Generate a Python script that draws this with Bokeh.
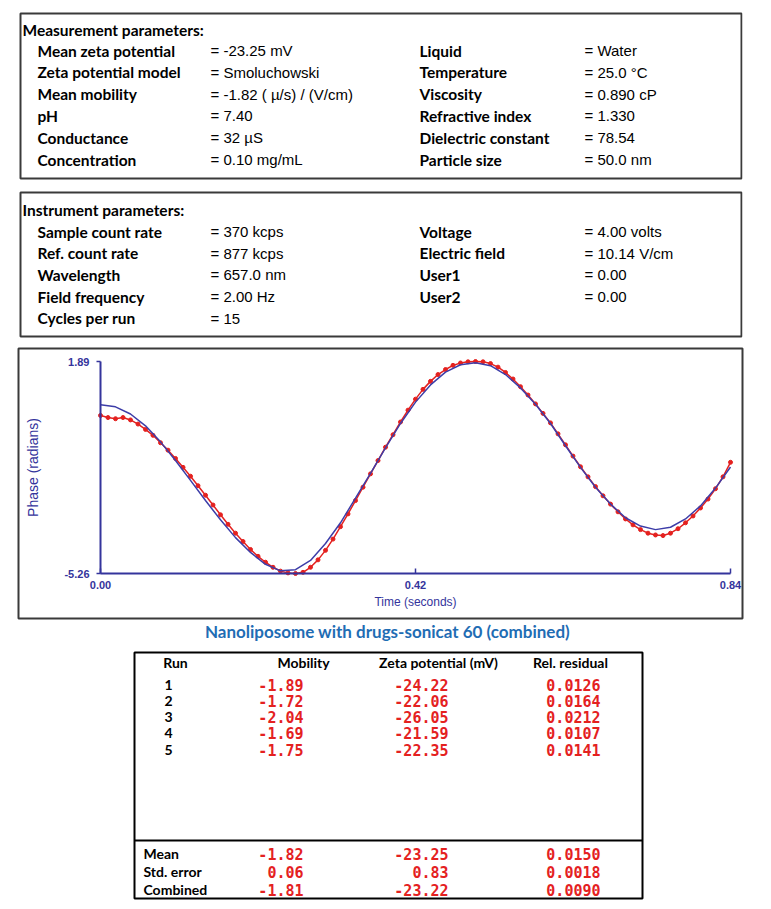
from bokeh.plotting import figure
from bokeh.models import Range1d, LinearAxis, FixedTicker, NumeralTickFormatter
from bokeh.layouts import column
from bokeh.core.properties import value
from bokeh.embed import file_html
from bokeh.resources import INLINE

# ---------------- data ----------------
meas_title = "Measurement parameters:"
meas_labels_left = ["Mean zeta potential", "Zeta potential model", "Mean mobility", "pH", "Conductance", "Concentration"]
meas_values_left = ["= -23.25 mV", "= Smoluchowski", "= -1.82 ( \u00b5/s) / (V/cm)", "= 7.40", "= 32 \u00b5S", "= 0.10 mg/mL"]
meas_labels_right = ["Liquid", "Temperature", "Viscosity", "Refractive index", "Dielectric constant", "Particle size"]
meas_values_right = ["= Water", "= 25.0 \u00b0C", "= 0.890 cP", "= 1.330", "= 78.54", "= 50.0 nm"]

inst_title = "Instrument parameters:"
inst_labels_left = ["Sample count rate", "Ref. count rate", "Wavelength", "Field frequency", "Cycles per run"]
inst_values_left = ["= 370 kcps", "= 877 kcps", "= 657.0 nm", "= 2.00 Hz", "= 15"]
inst_labels_right = ["Voltage", "Electric field", "User1", "User2"]
inst_values_right = ["= 4.00 volts", "= 10.14 V/cm", "= 0.00", "= 0.00"]

# phase plot (time in s, phase in radians)
x_ticks = [0.0, 0.42, 0.84]
y_ticks = [-5.26, 1.89]
x_label = "Time (seconds)"
y_label = "Phase (radians)"
t_fit = [0.00, 0.02, 0.04, 0.06, 0.08, 0.10, 0.12, 0.14, 0.16, 0.18, 0.20,
         0.22, 0.24, 0.26, 0.28, 0.30, 0.32, 0.34, 0.36, 0.38, 0.40, 0.42,
         0.44, 0.46, 0.48, 0.50, 0.52, 0.54, 0.56, 0.58, 0.60, 0.62, 0.64,
         0.66, 0.68, 0.70, 0.72, 0.74, 0.76, 0.78, 0.80, 0.82, 0.84]
phase_fit = [0.43, 0.36, 0.12, -0.28, -0.82, -1.45, -2.12, -2.80, -3.45, -4.05, -4.55,
             -4.95, -5.17, -5.13, -4.82, -4.25, -3.55, -2.72, -1.88, -1.02, -0.20, 0.52,
             1.10, 1.53, 1.78, 1.85, 1.75, 1.45, 1.00, 0.45, -0.20, -0.95, -1.68,
             -2.35, -2.92, -3.38, -3.66, -3.78, -3.70, -3.42, -2.98, -2.38, -1.67]
t_data = [round(0.01 * i, 2) for i in range(85)]
phase_data = [0.07, 0.00, -0.04, 0.00, -0.08, -0.22, -0.40, -0.60, -0.85, -1.10,
              -1.38, -1.68, -1.98, -2.30, -2.62, -2.95, -3.28, -3.60, -3.90, -4.18,
              -4.45, -4.68, -4.88, -5.05, -5.18, -5.24, -5.26, -5.22, -5.05, -4.80,
              -4.48, -4.10, -3.68, -3.25, -2.80, -2.35, -1.90, -1.45, -1.00, -0.58,
              -0.15, 0.25, 0.62, 0.95, 1.22, 1.45, 1.62, 1.76, 1.84, 1.88,
              1.89, 1.88, 1.82, 1.70, 1.52, 1.30, 1.04, 0.76, 0.46, 0.14,
              -0.18, -0.55, -0.92, -1.30, -1.66, -2.00, -2.33, -2.64, -2.92, -3.18,
              -3.42, -3.62, -3.78, -3.90, -3.96, -3.98, -3.90, -3.75, -3.55, -3.32,
              -3.05, -2.75, -2.40, -2.00, -1.51]

table_title = "Nanoliposome with drugs-sonicat 60 (combined)"
col_headers = ["Run", "Mobility", "Zeta potential (mV)", "Rel. residual"]
runs = ["1", "2", "3", "4", "5"]
run_mobility = ["-1.89", "-1.72", "-2.04", "-1.69", "-1.75"]
run_zeta = ["-24.22", "-22.06", "-26.05", "-21.59", "-22.35"]
run_residual = ["0.0126", "0.0164", "0.0212", "0.0107", "0.0141"]
summary_labels = ["Mean", "Std. error", "Combined"]
summary_mobility = ["-1.82", "0.06", "-1.81"]
summary_zeta = ["-23.25", "0.83", "-23.22"]
summary_residual = ["0.0150", "0.0018", "0.0090"]

# ---------------- styles ----------------
W = 771
FL, FR = 18, 742          # common frame left / right (column aligns frames)
LABEL_FONT = value("Lato")
VALUE_FONT = value("Liberation Sans")
MONO_FONT = value("DejaVu Sans Mono")
BOX_COLOR = "#3a3a3a"
RED = "#e4211f"
NAVY = "#34349c"
TITLE_BLUE = "#1f6db4"
LBL = "15.5px"


def canvas(top, bottom):
    p = figure(width=W, height=bottom - top,
               x_range=Range1d(FL, FR), y_range=Range1d(bottom, top),
               x_axis_type=None, y_axis_type=None,
               toolbar_location=None, output_backend="svg",
               min_border_left=FL, min_border_right=W - FR,
               min_border_top=0, min_border_bottom=0)
    p.outline_line_color = None
    p.background_fill_color = "white"
    p.border_fill_color = "white"
    return p


def texts(p, x, y, t, font, size, style="normal", align="left", color="black"):
    p.text(x=x, y=y, text=t, text_font=font, text_font_size=size, text_font_style=style,
           text_align=align, text_baseline="middle", text_color=color)


# ---------------- top: parameter panels ----------------
top = canvas(0, 340)
top.quad(left=[20, 20], right=[741, 741], top=[13, 192], bottom=[178, 336],
         fill_color=None, line_color=BOX_COLOR, line_width=2)

texts(top, [22], [29], [meas_title], LABEL_FONT, LBL, "bold")
ml = [50 + 21.8 * i for i in range(len(meas_labels_left))]
mr = [50 + 21.8 * i for i in range(len(meas_labels_right))]
texts(top, [37] * len(ml), ml, meas_labels_left, LABEL_FONT, LBL, "bold")
texts(top, [210] * len(ml), ml, meas_values_left, VALUE_FONT, "15px")
texts(top, [419] * len(mr), mr, meas_labels_right, LABEL_FONT, LBL, "bold")
texts(top, [584] * len(mr), mr, meas_values_right, VALUE_FONT, "15px")

texts(top, [22], [209], [inst_title], LABEL_FONT, LBL, "bold")
il = [231 + 21.7 * i for i in range(len(inst_labels_left))]
ir = [231 + 21.7 * i for i in range(len(inst_labels_right))]
texts(top, [37] * len(il), il, inst_labels_left, LABEL_FONT, LBL, "bold")
texts(top, [210] * len(il), il, inst_values_left, VALUE_FONT, "15px")
texts(top, [419] * len(ir), ir, inst_labels_right, LABEL_FONT, LBL, "bold")
texts(top, [584] * len(ir), ir, inst_values_right, VALUE_FONT, "15px")

# ---------------- middle: phase plot ----------------
PT, PB = 340, 620
FT, FB = 348, 618                            # frame (box) top / bottom in page pixels
AX0, AX1 = 100, 730                          # page x of first / last x tick
AY0, AY1 = 573, 361                          # page y of lowest / highest y tick
sx = (x_ticks[-1] - x_ticks[0]) / (AX1 - AX0)
sy = (y_ticks[-1] - y_ticks[0]) / (AY0 - AY1)
xr = Range1d(x_ticks[0] - (AX0 - FL) * sx, x_ticks[-1] + (FR - AX1) * sx)
yr = Range1d(y_ticks[0] - (FB - AY0) * sy, y_ticks[-1] + (AY1 - FT) * sy)

plot = figure(width=W, height=PB - PT, x_range=xr, y_range=yr,
              x_axis_type=None, y_axis_type=None,
              toolbar_location=None, output_backend="svg",
              min_border_left=FL, min_border_right=W - FR,
              min_border_top=FT - PT, min_border_bottom=PB - FB)
plot.outline_line_color = BOX_COLOR
plot.outline_line_width = 2
plot.background_fill_color = "white"
plot.border_fill_color = "white"

xaxis = LinearAxis(fixed_location=y_ticks[0], bounds=(x_ticks[0], x_ticks[-1]),
                   ticker=FixedTicker(ticks=x_ticks, minor_ticks=[]),
                   formatter=NumeralTickFormatter(format="0.00"), axis_label=x_label)
yaxis = LinearAxis(fixed_location=x_ticks[0], bounds=(y_ticks[0], y_ticks[-1]),
                   ticker=FixedTicker(ticks=y_ticks, minor_ticks=[]),
                   formatter=NumeralTickFormatter(format="0.00"), axis_label=y_label)
for ax in (xaxis, yaxis):
    ax.axis_line_color = NAVY
    ax.axis_line_width = 2
    ax.major_tick_line_color = NAVY
    ax.major_tick_line_width = 1.5
    ax.minor_tick_line_color = None
    ax.major_label_text_color = NAVY
    ax.major_label_text_font = "Liberation Sans"
    ax.major_label_text_font_style = "bold"
    ax.major_label_text_font_size = "11px"
    ax.axis_label_text_color = NAVY
    ax.axis_label_text_font = "Liberation Sans"
    ax.axis_label_text_font_style = "normal"
xaxis.major_tick_in = 5
xaxis.major_tick_out = 0
xaxis.major_label_standoff = 7
xaxis.axis_label_standoff = 3
xaxis.axis_label_text_font_size = "12px"
yaxis.major_tick_in = 0
yaxis.major_tick_out = 4
yaxis.major_label_standoff = 7
yaxis.axis_label_standoff = 20
yaxis.axis_label_text_font_size = "14px"
plot.add_layout(xaxis, "below")
plot.add_layout(yaxis, "left")

plot.line(t_data, phase_data, line_color=RED, line_width=1.5)
plot.scatter(t_data, phase_data, size=4, fill_color=RED, line_color=RED)
plot.line(t_fit, phase_fit, line_color="#3d3da8", line_width=1.5)

# ---------------- bottom: results table ----------------
BT, BB = PB, 909
bot = canvas(BT, BB)
texts(bot, [387], [631], [table_title], LABEL_FONT, "17px", "bold", "center", TITLE_BLUE)

TL, TR, TT, TB = 134, 642, 652, 898
bot.quad(left=[TL], right=[TR], top=[TT], bottom=[TB], fill_color=None,
         line_color="black", line_width=2)
bot.segment(x0=[TL], x1=[TR], y0=[840], y1=[840], line_color="black", line_width=2)

texts(bot, [175, 303, 438, 570], [662] * 4, col_headers, LABEL_FONT, "14px", "bold", "center")

ry = [684 + 16.3 * i for i in range(len(runs))]
texts(bot, [168] * len(ry), ry, runs, LABEL_FONT, "14px", "bold", "center")
texts(bot, [303] * len(ry), ry, run_mobility, MONO_FONT, "15px", "bold", "right", RED)
texts(bot, [448] * len(ry), ry, run_zeta, MONO_FONT, "15px", "bold", "right", RED)
texts(bot, [600] * len(ry), ry, run_residual, MONO_FONT, "15px", "bold", "right", RED)

sy_ = [853 + 18 * i for i in range(len(summary_labels))]
texts(bot, [143] * len(sy_), sy_, summary_labels, LABEL_FONT, "14px", "bold", "left")
texts(bot, [303] * len(sy_), sy_, summary_mobility, MONO_FONT, "15px", "bold", "right", RED)
texts(bot, [448] * len(sy_), sy_, summary_zeta, MONO_FONT, "15px", "bold", "right", RED)
texts(bot, [600] * len(sy_), sy_, summary_residual, MONO_FONT, "15px", "bold", "right", RED)

layout = column(top, plot, bot, spacing=0)
open("out.html", "w").write(file_html(layout, INLINE))
